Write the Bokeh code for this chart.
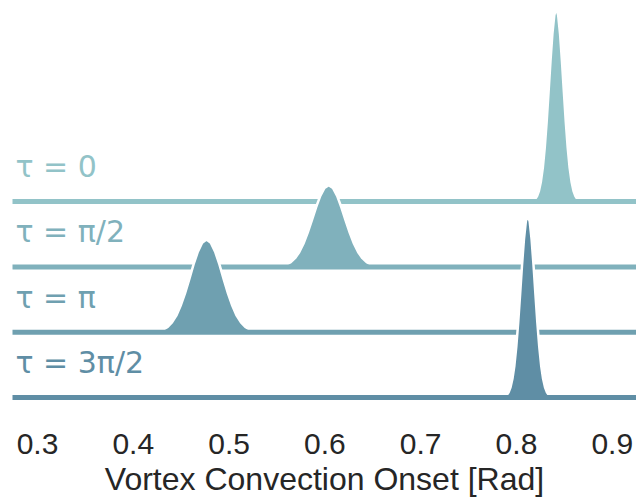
from bokeh.plotting import figure
from bokeh.models import Range1d, FixedTicker
from bokeh.embed import file_html
from bokeh.resources import INLINE
from bokeh.core.properties import value

# ---- data ----
row_labels = ["τ = 0", "τ = π/2", "τ = π", "τ = 3π/2"]
row_colors = ["#92c3c8", "#80b1bc", "#6fa0b0", "#5f8ea5"]

x_tau0 = [0.8152, 0.8175, 0.8195, 0.8215, 0.8235, 0.8255, 0.8275, 0.8295, 0.8315, 0.8335,
          0.8355, 0.8375, 0.8395, 0.8415, 0.8435, 0.8455, 0.8475, 0.8495, 0.8515, 0.8535,
          0.8555, 0.8575, 0.8595, 0.8615, 0.8635, 0.8655, 0.8678]
d_tau0 = [0.16, 0.42, 0.96, 2.03, 3.98, 7.3, 12.4, 19.7, 29.2, 40.2, 51.5, 61.6, 68.5, 71.0,
          68.5, 61.6, 51.5, 40.2, 29.2, 19.7, 12.4, 7.3, 3.98, 2.03, 0.96, 0.42, 0.16]

x_tau_half = [0.5459, 0.5512, 0.5556, 0.56, 0.5644, 0.5688, 0.5732, 0.5776, 0.582, 0.5864,
              0.5908, 0.5952, 0.5996, 0.604, 0.6084, 0.6128, 0.6172, 0.6216, 0.626, 0.6304,
              0.6348, 0.6392, 0.6436, 0.648, 0.6524, 0.6568, 0.6621]
d_tau_half = [0.07, 0.2, 0.44, 0.9, 1.74, 3.2, 5.4, 8.5, 12.5, 17.1, 21.9, 26.1, 29.0, 30.0,
              29.0, 26.1, 21.9, 17.1, 12.5, 8.5, 5.4, 3.2, 1.74, 0.9, 0.44, 0.2, 0.07]

x_tau_pi = [0.4164, 0.4224, 0.4269, 0.4314, 0.4359, 0.4404, 0.4449, 0.4494, 0.4539, 0.4584,
            0.4629, 0.4674, 0.4719, 0.4764, 0.4809, 0.4854, 0.4899, 0.4944, 0.4989, 0.5034,
            0.5079, 0.5124, 0.5169, 0.5214, 0.5259, 0.5304, 0.5364]
d_tau_pi = [0.08, 0.22, 0.49, 1.02, 1.98, 3.6, 6.1, 9.7, 14.2, 19.4, 24.9, 29.6, 32.9, 34.1,
            32.9, 29.6, 24.9, 19.4, 14.2, 9.7, 6.1, 3.6, 1.98, 1.02, 0.49, 0.22, 0.08]

x_tau_3half = [0.7855, 0.7878, 0.7898, 0.7918, 0.7938, 0.7958, 0.7978, 0.7998, 0.8018, 0.8038,
               0.8058, 0.8078, 0.8098, 0.8118, 0.8138, 0.8158, 0.8178, 0.8198, 0.8218, 0.8238,
               0.8258, 0.8278, 0.8298, 0.8318, 0.8338, 0.8358, 0.8381]
d_tau_3half = [0.15, 0.40, 0.91, 1.92, 3.76, 6.9, 11.7, 18.6, 27.5, 37.9, 48.6, 58.1, 64.7, 67.0,
               64.7, 58.1, 48.6, 37.9, 27.5, 18.6, 11.7, 6.9, 3.76, 1.92, 0.91, 0.40, 0.15]

xs = [x_tau0, x_tau_half, x_tau_pi, x_tau_3half]
ds = [d_tau0, d_tau_half, d_tau_pi, d_tau_3half]

x_ticks = [0.3, 0.4, 0.5, 0.6, 0.7, 0.8, 0.9]
x_title = "Vortex Convection Onset [Rad]"

# ---- layout ----
x_lo, x_hi = 0.2739, 0.9253
y_lo, y_hi = -9.89, 145.85
row_gap = 24.0
n = len(row_labels)

p = figure(width=636, height=499, output_backend="svg", toolbar_location=None,
           x_range=Range1d(x_lo, x_hi), y_range=Range1d(y_lo, y_hi),
           min_border_left=12, min_border_right=0, min_border_top=0, min_border_bottom=74)
p.outline_line_color = None
p.grid.visible = False
p.yaxis.visible = False
p.background_fill_color = "white"
p.border_fill_color = "white"

for i in range(n):
    off = (n - 1 - i) * row_gap
    top = [off + d for d in ds[i]]
    base = [off] * len(ds[i])
    p.varea(x=xs[i], y1=base, y2=top, fill_color=row_colors[i], fill_alpha=1.0)
    p.line(x=xs[i], y=top, line_color="white", line_width=2.5)
    p.line(x=[x_lo, x_hi], y=[off, off], line_color=row_colors[i], line_width=5,
           line_cap="round")
    p.text(x=[x_lo], y=[off], text=[row_labels[i]], x_offset=3, y_offset=-35,
           text_font=value("DejaVu Sans"), text_font_size="30px",
           text_color=row_colors[i], text_baseline="alphabetic", text_align="left")

ax = p.xaxis[0]
ax.ticker = FixedTicker(ticks=x_ticks)
ax.axis_line_color = None
ax.major_tick_line_color = None
ax.minor_tick_line_color = None
ax.major_tick_out = 0
ax.major_tick_in = 0
ax.major_label_standoff = 9
ax.major_label_text_font = "Liberation Sans"
ax.major_label_text_font_size = "30px"
ax.major_label_text_color = "#262626"
ax.axis_label = x_title
ax.axis_label_text_font = "Liberation Sans"
ax.axis_label_text_font_size = "32px"
ax.axis_label_text_font_style = "normal"
ax.axis_label_text_color = "#262626"
ax.axis_label_standoff = 4

open("out.html", "w").write(file_html(p, INLINE))
